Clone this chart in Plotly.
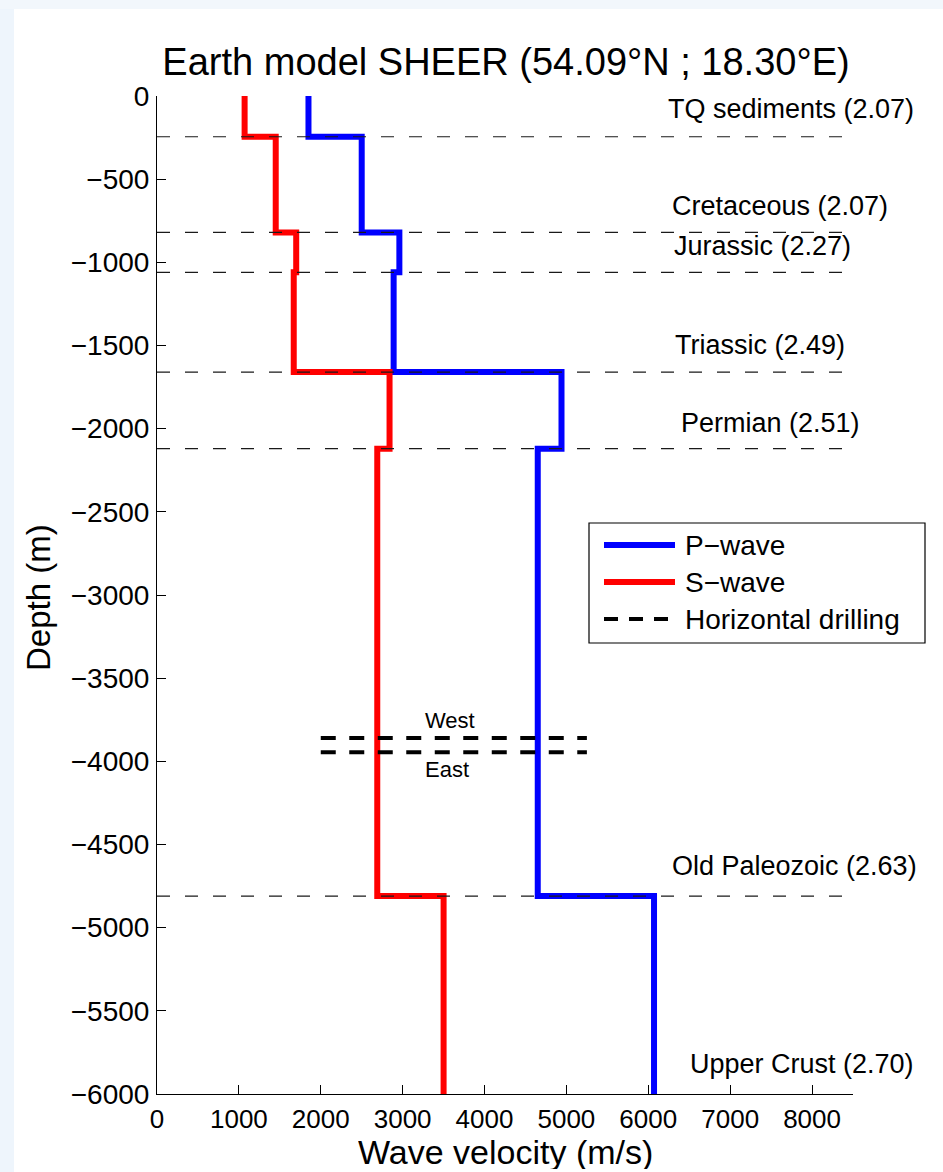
import plotly.graph_objects as go

# Layer tops (m, negative downward) and interval velocities (m/s)
layer_tops = [0, -245, -820, -1060, -1660, -2120, -4810]
model_bottom = -6000
vp = [1850, 2500, 2960, 2890, 4940, 4650, 6070]
vs = [1070, 1450, 1700, 1670, 2840, 2690, 3500]

# Formation boundaries drawn as thin dashed lines, with formation labels
boundaries = [-245, -820, -1060, -1660, -2120, -4810]
formations = ["TQ sediments (2.07)", "Cretaceous (2.07)", "Jurassic (2.27)",
              "Triassic (2.49)", "Permian (2.51)", "Old Paleozoic (2.63)",
              "Upper Crust (2.70)"]
formation_label_x = [6220, 6270, 6290, 6300, 6370, 6260, 6480]
formation_label_y = [-81, -663, -904, -1495, -1966, -4630, -5822]

# Horizontal drilling wells
drill_depths = [-3860, -3945]
drill_names = ["West", "East"]
drill_x_start = 2000
drill_x_end = 5250

X_MAX = 8500
FONT = "Liberation Sans, Arial, Helvetica, sans-serif"

W, H = 943, 1172
ML, MR, MT, MB = 157, 90, 96, 78
PW, PH = W - ML - MR, H - MT - MB


def px_x(p):
    return (p - ML) / PW


def px_y(p):
    return (H - MB - p) / PH


fig = go.Figure()

# Step profiles: vertical inside a layer, horizontal jump at each boundary
fig.add_trace(go.Scatter(
    x=vp + [vp[-1]], y=layer_tops + [model_bottom], mode="lines",
    line=dict(color="#0000ff", width=6, shape="vh"), name="P\u2212wave",
    showlegend=False, hoverinfo="skip"))
fig.add_trace(go.Scatter(
    x=vs + [vs[-1]], y=layer_tops + [model_bottom], mode="lines",
    line=dict(color="#ff0000", width=6, shape="vh"), name="S\u2212wave",
    showlegend=False, hoverinfo="skip"))

# Thin dashed formation boundaries across the full plot width
for d in boundaries:
    fig.add_trace(go.Scatter(
        x=[0, X_MAX], y=[d, d], mode="lines",
        line=dict(color="#1a1a1a", width=1.2, dash="13px,15px"),
        showlegend=False, hoverinfo="skip"))

# Horizontal drilling wells
for d in drill_depths:
    fig.add_trace(go.Scatter(
        x=[drill_x_start, drill_x_end], y=[d, d], mode="lines",
        line=dict(color="#000000", width=4, dash="15px,13.5px"),
        showlegend=False, hoverinfo="skip"))

annotations = []
for name, x, y in zip(formations, formation_label_x, formation_label_y):
    annotations.append(dict(x=x, y=y, xref="x", yref="y", text=name,
                            showarrow=False, xanchor="left", yanchor="middle",
                            font=dict(size=27, color="#000", family=FONT)))

well_mid = (drill_x_start + drill_x_end) / 2
annotations.append(dict(x=well_mid - 50, y=drill_depths[0], xref="x", yref="y",
                        text=drill_names[0], showarrow=False,
                        xanchor="center", yanchor="bottom", yshift=3,
                        font=dict(size=22, color="#000", family=FONT)))
annotations.append(dict(x=well_mid - 80, y=drill_depths[1], xref="x", yref="y",
                        text=drill_names[1], showarrow=False,
                        xanchor="center", yanchor="top", yshift=-3,
                        font=dict(size=22, color="#000", family=FONT)))

# Axis titles
annotations.append(dict(x=px_x(38), y=px_y(598), xref="paper", yref="paper",
                        text="Depth (m)", textangle=-90, showarrow=False,
                        xanchor="center", yanchor="middle",
                        font=dict(size=33, color="#000", family=FONT)))
annotations.append(dict(x=px_x(505), y=px_y(1152), xref="paper", yref="paper",
                        text="Wave velocity (m/s)", showarrow=False,
                        xanchor="center", yanchor="middle", height=34,
                        font=dict(size=34, color="#000", family=FONT)))

# Legend box
shapes = [
    dict(type="rect", xref="paper", yref="paper",
         x0=px_x(589), x1=px_x(925), y0=px_y(643), y1=px_y(523),
         line=dict(color="#000", width=1.2), fillcolor="#ffffff", layer="above"),
    # soft bluish page edges
    dict(type="rect", xref="paper", yref="paper",
         x0=px_x(0), x1=px_x(14), y0=px_y(H), y1=px_y(0),
         line=dict(width=0), fillcolor="#eef5fc", layer="below"),
    dict(type="rect", xref="paper", yref="paper",
         x0=px_x(0), x1=px_x(W), y0=px_y(9), y1=px_y(0),
         line=dict(width=0), fillcolor="#f2f7fc", layer="below"),
]
legend_items = [("P\u2212wave", "#0000ff", 6, "solid", 545),
                ("S\u2212wave", "#ff0000", 6, "solid", 582),
                ("Horizontal drilling", "#000000", 4, "14px,11px", 619)]
for label, color, width, dash, ypx in legend_items:
    shapes.append(dict(type="line", xref="paper", yref="paper",
                       x0=px_x(604), x1=px_x(675), y0=px_y(ypx), y1=px_y(ypx),
                       line=dict(color=color, width=width, dash=dash),
                       layer="above"))
    annotations.append(dict(x=px_x(683), y=px_y(ypx), xref="paper",
                            yref="paper", text=label, showarrow=False,
                            xanchor="left", yanchor="middle",
                            font=dict(size=28, color="#000", family=FONT)))

fig.update_layout(
    width=W, height=H,
    margin=dict(l=ML, r=MR, t=MT, b=MB),
    paper_bgcolor="#ffffff", plot_bgcolor="#ffffff",
    title=dict(text="Earth model SHEER (54.09\u00b0N ; 18.30\u00b0E)",
               x=px_x(506), xref="paper", xanchor="center",
               y=1 - 62 / H, yref="container", yanchor="middle",
               font=dict(size=38, color="#000", family=FONT)),
    xaxis=dict(range=[0, X_MAX], tickmode="linear", tick0=0, dtick=1000,
               showgrid=False, zeroline=False, showline=True,
               linecolor="#000", linewidth=1, ticks="inside", ticklen=9,
               tickcolor="#000", ticklabelstandoff=2, tickangle=0,
               tickfont=dict(size=26, color="#000", family=FONT)),
    yaxis=dict(range=[model_bottom, 0], tickmode="linear", tick0=0, dtick=500,
               showgrid=False, zeroline=False, showline=True,
               linecolor="#000", linewidth=1, ticks="inside", ticklen=9,
               tickcolor="#000", ticklabelstandoff=1,
               tickfont=dict(size=28, color="#000", family=FONT)),
    showlegend=False,
    shapes=shapes,
    annotations=annotations,
)

fig.write_html("out.html")
